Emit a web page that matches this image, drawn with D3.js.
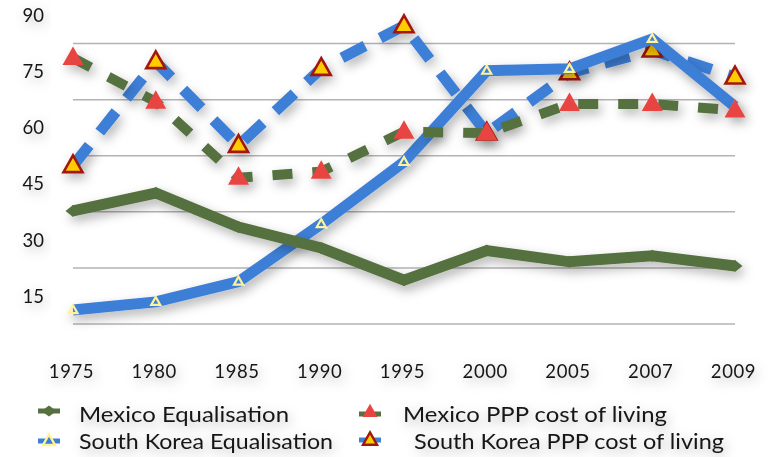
<!DOCTYPE html>
<html>
<head>
<meta charset="utf-8">
<script src="https://cdn.jsdelivr.net/npm/d3@7"></script>
<style>
  html, body { margin: 0; padding: 0; background: #fff; }
  svg { display: block; }
  text { font-family: Lato, "Noto Sans", sans-serif; fill: #161616; }
</style>
</head>
<body>
<svg id="chart" width="771" height="457"></svg>
<script>
const years = ["1975","1980","1985","1990","1995","2000","2005","2007","2009"];
const mexicoEq  = [37.6, 42.4, 33.3, 27.7, 19.1, 27.0, 24.0, 25.6, 22.9];
const koreaEq   = [11.1, 13.3, 18.7, 34.1, 50.7, 75.1, 75.6, 83.6, 65.5];
const mexicoPPP = [78.5, 66.8, 46.5, 48.1, 58.8, 58.4, 66.2, 66.2, 64.5];
const koreaPPP  = [49.7, 77.5, 55.1, 75.7, 87.1, 58.4, 74.5, 80.6, 73.4];
const yTickLabels = [15, 30, 45, 60, 75, 90];
const gridValues = [7.5, 22.5, 37.5, 52.5, 67.5, 82.5];
const seriesNames = ["Mexico Equalisation", "Mexico PPP cost of living",
                     "South Korea Equalisation", " South Korea PPP cost of living"];

const GREEN = "#56713f", BLUE = "#3e7fd6", RED = "#e84542",
      YELLOW = "#ffcc00", DARKRED = "#a3170b", PALE = "#fff39a";

const svg = d3.select("#chart");
const defs = svg.append("defs");
const sh = defs.append("filter").attr("id","shadow")
  .attr("x","-20%").attr("y","-20%").attr("width","140%").attr("height","160%");
sh.append("feDropShadow").attr("dx",3).attr("dy",5).attr("stdDeviation",5.5)
  .attr("flood-color","#000").attr("flood-opacity",0.3);
const tsh = defs.append("filter").attr("id","tshadow")
  .attr("x","-30%").attr("y","-80%").attr("width","160%").attr("height","260%");
tsh.append("feDropShadow").attr("dx",2).attr("dy",4).attr("stdDeviation",6)
  .attr("flood-color","#000").attr("flood-opacity",0.3);

const x = d3.scalePoint().domain(years).range([73, 735]);
const y = d3.scaleLinear().domain([0, 90]).range([351.6, 15]);

// gridlines
const grid = svg.append("g").attr("transform","translate(73,0)")
  .call(d3.axisLeft(y).tickValues(gridValues).tickSize(-662).tickFormat(""));
grid.select(".domain").remove();
grid.selectAll("line").attr("stroke","#b3b3b3").attr("stroke-width",1.5);

// y labels
const ya = svg.append("g").attr("transform","translate(44,0)")
  .call(d3.axisLeft(y).tickValues(yTickLabels).tickSize(0).tickPadding(0).tickFormat(d3.format("d")));
ya.select(".domain").remove();
ya.selectAll("text").attr("font-size",18.5).attr("font-family","Lato, sans-serif")
  .attr("fill","#161616").attr("filter","url(#tshadow)").attr("dy","0.36em");

// x labels
const xa = svg.append("g").attr("transform","translate(-2,362)")
  .call(d3.axisBottom(x).tickSize(0).tickPadding(0));
xa.select(".domain").remove();
xa.selectAll("text").attr("font-size",18.5).attr("font-family","Lato, sans-serif")
  .attr("fill","#161616").attr("filter","url(#tshadow)").attr("dy","0.87em")
  .attr("letter-spacing", 0.6);

const line = d3.line().x((d,i) => x(years[i])).y(d => y(d));

function triPath(w) {
  const h = w * 0.88;
  return `M0,${-h*0.62}L${w/2},${h*0.38}L${-w/2},${h*0.38}Z`;
}
function diamondPath(w, h) { return `M0,${-h/2}L${w/2},0L0,${h/2}L${-w/2},0Z`; }

// South Korea PPP (bottom)
const gKP = svg.append("g").attr("filter","url(#shadow)");
gKP.append("path").attr("d", line(koreaPPP)).attr("fill","none")
  .attr("stroke",BLUE).attr("stroke-width",11).attr("stroke-dasharray","26 17");
gKP.selectAll("path.m").data(koreaPPP).enter().append("path").attr("class","m")
  .attr("transform",(d,i)=>`translate(${x(years[i])},${y(d)})`)
  .attr("d", triPath(19)).attr("fill",YELLOW).attr("stroke",DARKRED)
  .attr("stroke-width",2.6).attr("stroke-linejoin","miter");

// South Korea Equalisation
const gKE = svg.append("g").attr("filter","url(#shadow)");
gKE.append("path").attr("d", line(koreaEq)).attr("fill","none")
  .attr("stroke",BLUE).attr("stroke-width",11).attr("stroke-linejoin","miter");
gKE.selectAll("path.m").data(koreaEq).enter().append("path").attr("class","m")
  .attr("transform",(d,i)=>`translate(${x(years[i])},${y(d)})`)
  .attr("d", triPath(9)).attr("fill","none").attr("stroke",PALE).attr("stroke-width",2.2);

// Mexico PPP
const gMP = svg.append("g").attr("filter","url(#shadow)");
gMP.append("path").attr("d", line(mexicoPPP)).attr("fill","none")
  .attr("stroke",GREEN).attr("stroke-width",10).attr("stroke-dasharray","20 20");
gMP.selectAll("path.m").data(mexicoPPP).enter().append("path").attr("class","m")
  .attr("transform",(d,i)=>`translate(${x(years[i])},${y(d)})`)
  .attr("d", triPath(21)).attr("fill",RED);

// Mexico Equalisation (top)
const gME = svg.append("g").attr("filter","url(#shadow)");
gME.append("path").attr("d", line(mexicoEq)).attr("fill","none")
  .attr("stroke",GREEN).attr("stroke-width",11).attr("stroke-linejoin","miter");
gME.selectAll("path.m").data(mexicoEq).enter().append("path").attr("class","m")
  .attr("transform",(d,i)=>`translate(${x(years[i])},${y(d)})`)
  .attr("d", diamondPath(15, 12)).attr("fill",GREEN);

// Legend
const leg = svg.append("g");
const items = [
  {name: seriesNames[0], mx: 49, my: 411, tx: 79, ty: 422, w: 210, kind: "me"},
  {name: seriesNames[1], mx: 370, my: 412, tx: 403, ty: 422, w: 264, kind: "mp"},
  {name: seriesNames[2], mx: 49, my: 441, tx: 79, ty: 448.5, w: 254, kind: "ke"},
  {name: seriesNames[3], mx: 370, my: 440, tx: 414, ty: 448.5, w: 310, kind: "kp"}
];
items.forEach(it => {
  const g = leg.append("g").attr("transform",`translate(${it.mx},${it.my})`);
  if (it.kind === "me") {
    g.append("line").attr("x1",-11).attr("x2",11).attr("stroke",GREEN).attr("stroke-width",5);
    g.append("path").attr("d", diamondPath(15, 11)).attr("fill",GREEN);
  } else if (it.kind === "mp") {
    g.append("line").attr("x1",-11).attr("x2",11).attr("y1",2).attr("y2",2).attr("stroke",GREEN).attr("stroke-width",5);
    g.append("path").attr("d", triPath(15)).attr("fill",RED);
  } else if (it.kind === "ke") {
    g.append("line").attr("x1",-11).attr("x2",11).attr("stroke",BLUE).attr("stroke-width",5);
    g.append("path").attr("d", triPath(12)).attr("fill",BLUE).attr("stroke",PALE).attr("stroke-width",2.4);
  } else {
    g.append("line").attr("x1",-11).attr("x2",11).attr("stroke",BLUE).attr("stroke-width",5);
    g.append("path").attr("d", triPath(14)).attr("fill",YELLOW).attr("stroke",DARKRED).attr("stroke-width",2.4);
  }
  leg.append("text").attr("x", it.tx).attr("y", it.ty)
    .attr("font-size", 20.5).attr("textLength", it.w).attr("lengthAdjust","spacingAndGlyphs")
    .attr("filter","url(#tshadow)")
    .text(it.name.trim());
});
</script>
</body>
</html>
